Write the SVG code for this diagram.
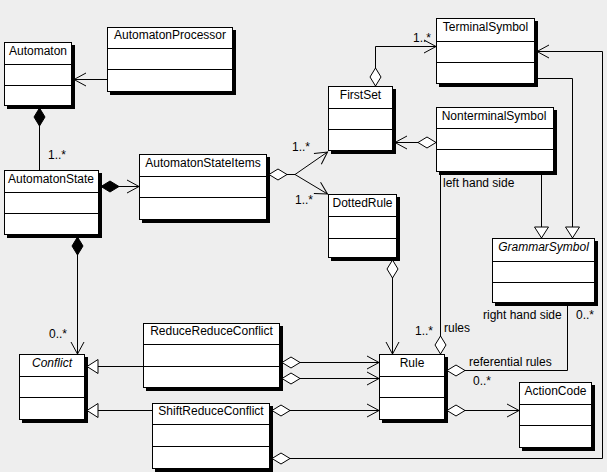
<svg xmlns="http://www.w3.org/2000/svg" width="607" height="472" viewBox="0 0 607 472">
<style>
.sh{fill:#000}
.bx{fill:#fff;stroke:#000;stroke-width:1}
.dv{stroke:#000;stroke-width:1}
.t{font-family:"Liberation Sans",Arial,sans-serif;font-size:12px;fill:#000;text-anchor:middle}
.it{font-style:italic}
.l{font-family:"Liberation Sans",Arial,sans-serif;font-size:12px;fill:#000}
.c{fill:none;stroke:#000;stroke-width:1}
</style>
<defs>
<marker id="arr" markerUnits="userSpaceOnUse" markerWidth="14" markerHeight="14" refX="12" refY="7" orient="auto" overflow="visible">
<path d="M0,0.5 L12,7 L0,13.5" fill="none" stroke="#000" stroke-width="1"/>
</marker>
<marker id="tri" markerUnits="userSpaceOnUse" markerWidth="14" markerHeight="16" refX="11" refY="7" orient="auto" overflow="visible">
<path d="M0,0 L11,7 L0,14 Z" fill="#fff" stroke="#000" stroke-width="1"/>
</marker>
<marker id="dia" markerUnits="userSpaceOnUse" markerWidth="20" markerHeight="14" refX="0" refY="6" orient="auto" overflow="visible">
<path d="M0,6 L9,0.5 L18,6 L9,11.5 Z" fill="#fff" stroke="#000" stroke-width="1"/>
</marker>
<marker id="fdia" markerUnits="userSpaceOnUse" markerWidth="20" markerHeight="14" refX="0" refY="6" orient="auto" overflow="visible">
<path d="M0,6 L9,0.5 L18,6 L9,11.5 Z" fill="#000" stroke="#000" stroke-width="1"/>
</marker>
</defs>
<rect x="0" y="0" width="607" height="472" fill="#eeeeee"/>

<g id="Automaton">
<rect class="sh" x="7" y="45" width="68" height="64"/>
<rect class="bx" x="4.5" y="42.5" width="67" height="63"/>
<line class="dv" x1="4.5" y1="64.5" x2="71.5" y2="64.5"/>
<line class="dv" x1="4.5" y1="85.5" x2="71.5" y2="85.5"/>
<text class="t" x="38" y="55">Automaton</text>
</g>
<g id="AutomatonProcessor">
<rect class="sh" x="110" y="30" width="126" height="65"/>
<rect class="bx" x="107.5" y="27.5" width="125" height="64"/>
<line class="dv" x1="107.5" y1="48.5" x2="232.5" y2="48.5"/>
<line class="dv" x1="107.5" y1="69.5" x2="232.5" y2="69.5"/>
<text class="t" x="170" y="39">AutomatonProcessor</text>
</g>
<g id="AutomatonState">
<rect class="sh" x="7" y="173" width="95" height="65"/>
<rect class="bx" x="4.5" y="170.5" width="94" height="64"/>
<line class="dv" x1="4.5" y1="192.5" x2="98.5" y2="192.5"/>
<line class="dv" x1="4.5" y1="213.5" x2="98.5" y2="213.5"/>
<text class="t" x="51" y="183">AutomatonState</text>
</g>
<g id="AutomatonStateItems">
<rect class="sh" x="142" y="157" width="128" height="66"/>
<rect class="bx" x="139.5" y="154.5" width="127" height="65"/>
<line class="dv" x1="139.5" y1="176.5" x2="266.5" y2="176.5"/>
<line class="dv" x1="139.5" y1="197.5" x2="266.5" y2="197.5"/>
<text class="t" x="203" y="167">AutomatonStateItems</text>
</g>
<g id="FirstSet">
<rect class="sh" x="331" y="89" width="65" height="65"/>
<rect class="bx" x="328.5" y="86.5" width="64" height="64"/>
<line class="dv" x1="328.5" y1="108.5" x2="392.5" y2="108.5"/>
<line class="dv" x1="328.5" y1="129.5" x2="392.5" y2="129.5"/>
<text class="t" x="360.5" y="99">FirstSet</text>
</g>
<g id="TerminalSymbol">
<rect class="sh" x="439" y="21" width="99" height="66"/>
<rect class="bx" x="436.5" y="18.5" width="98" height="65"/>
<line class="dv" x1="436.5" y1="41.5" x2="534.5" y2="41.5"/>
<line class="dv" x1="436.5" y1="62.5" x2="534.5" y2="62.5"/>
<text class="t" x="485.5" y="31">TerminalSymbol</text>
</g>
<g id="NonterminalSymbol">
<rect class="sh" x="439" y="110" width="118" height="65"/>
<rect class="bx" x="436.5" y="107.5" width="117" height="64"/>
<line class="dv" x1="436.5" y1="128.5" x2="553.5" y2="128.5"/>
<line class="dv" x1="436.5" y1="149.5" x2="553.5" y2="149.5"/>
<text class="t" x="494" y="120">NonterminalSymbol</text>
</g>
<g id="GrammarSymbol">
<rect class="sh" x="495" y="241" width="103" height="65"/>
<rect class="bx" x="492.5" y="238.5" width="102" height="64"/>
<line class="dv" x1="492.5" y1="261.5" x2="594.5" y2="261.5"/>
<line class="dv" x1="492.5" y1="282.5" x2="594.5" y2="282.5"/>
<text class="t it" x="543.5" y="251">GrammarSymbol</text>
</g>
<g id="DottedRule">
<rect class="sh" x="331" y="197" width="69" height="64"/>
<rect class="bx" x="328.5" y="194.5" width="68" height="63"/>
<line class="dv" x1="328.5" y1="216.5" x2="396.5" y2="216.5"/>
<line class="dv" x1="328.5" y1="238.5" x2="396.5" y2="238.5"/>
<text class="t" x="362.5" y="207">DottedRule</text>
</g>
<g id="Rule">
<rect class="sh" x="382" y="357" width="66" height="66"/>
<rect class="bx" x="379.5" y="354.5" width="65" height="65"/>
<line class="dv" x1="379.5" y1="376.5" x2="444.5" y2="376.5"/>
<line class="dv" x1="379.5" y1="397.5" x2="444.5" y2="397.5"/>
<text class="t" x="412" y="367">Rule</text>
</g>
<g id="ActionCode">
<rect class="sh" x="522" y="385" width="73" height="66"/>
<rect class="bx" x="519.5" y="382.5" width="72" height="65"/>
<line class="dv" x1="519.5" y1="404.5" x2="591.5" y2="404.5"/>
<line class="dv" x1="519.5" y1="425.5" x2="591.5" y2="425.5"/>
<text class="t" x="555.5" y="395">ActionCode</text>
</g>
<g id="Conflict">
<rect class="sh" x="22" y="357" width="66" height="66"/>
<rect class="bx" x="19.5" y="354.5" width="65" height="65"/>
<line class="dv" x1="19.5" y1="376.5" x2="84.5" y2="376.5"/>
<line class="dv" x1="19.5" y1="397.5" x2="84.5" y2="397.5"/>
<text class="t it" x="52" y="367">Conflict</text>
</g>
<g id="ReduceReduceConflict">
<rect class="sh" x="146" y="326" width="137" height="65"/>
<rect class="bx" x="143.5" y="323.5" width="136" height="64"/>
<line class="dv" x1="143.5" y1="344.5" x2="279.5" y2="344.5"/>
<line class="dv" x1="143.5" y1="366.5" x2="279.5" y2="366.5"/>
<text class="t" x="211.5" y="335">ReduceReduceConflict</text>
</g>
<g id="ShiftReduceConflict">
<rect class="sh" x="155" y="406" width="118" height="66"/>
<rect class="bx" x="152.5" y="403.5" width="117" height="65"/>
<line class="dv" x1="152.5" y1="424.5" x2="269.5" y2="424.5"/>
<line class="dv" x1="152.5" y1="446.5" x2="269.5" y2="446.5"/>
<text class="t" x="211" y="415">ShiftReduceConflict</text>
</g>

<g id="connectors">
<path class="c" d="M107,79.5 L74,79.5" marker-end="url(#arr)"/>
<path class="c" d="M39.5,108 L39.5,170" marker-start="url(#fdia)"/>
<path class="c" d="M101,186.5 L139,186.5" marker-start="url(#fdia)" marker-end="url(#arr)"/>
<path class="c" d="M269,174.5 L295,174.5 L327.5,152" marker-start="url(#dia)" marker-end="url(#arr)"/>
<path class="c" d="M295,174.5 L327.5,194" marker-end="url(#arr)"/>
<path class="c" d="M375.5,86 L375.5,46.5 L436,46.5" marker-start="url(#dia)" marker-end="url(#arr)"/>
<path class="c" d="M436,142.5 L395,142.5" marker-start="url(#dia)" marker-end="url(#arr)"/>
<path class="c" d="M541.5,174 L541.5,238" marker-end="url(#tri)"/>
<path class="c" d="M537,78.5 L572.5,78.5 L572.5,238" marker-end="url(#tri)"/>
<path class="c" d="M440.5,354 L440.5,174"  marker-start="url(#dia)"/>
<path class="c" d="M447,370.5 L567.5,370.5 L567.5,305" marker-start="url(#dia)"/>
<path class="c" d="M447,410.5 L519,410.5" marker-start="url(#dia)" marker-end="url(#arr)"/>
<path class="c" d="M392.5,260 L392.5,354" marker-start="url(#dia)" marker-end="url(#arr)"/>
<path class="c" d="M77.5,237 L77.5,354" marker-start="url(#fdia)" marker-end="url(#arr)"/>
<path class="c" d="M143,366.5 L87,366.5" marker-end="url(#tri)"/>
<path class="c" d="M152,410.5 L87,410.5" marker-end="url(#tri)"/>
<path class="c" d="M282,362.5 L379,362.5" marker-start="url(#dia)" marker-end="url(#arr)"/>
<path class="c" d="M282,378.5 L379,378.5" marker-start="url(#dia)" marker-end="url(#arr)"/>
<path class="c" d="M272,410.5 L379,410.5" marker-start="url(#dia)" marker-end="url(#arr)"/>
<path class="c" d="M272,458.5 L602.5,458.5 L602.5,51.5 L537,51.5" marker-start="url(#dia)" marker-end="url(#arr)"/>
<text class="l" x="48" y="159">1..*</text>
<text class="l" x="49" y="338">0..*</text>
<text class="l" x="413" y="42">1..*</text>
<text class="l" x="292" y="151">1..*</text>
<text class="l" x="295" y="204">1..*</text>
<text class="l" x="443" y="187">left hand side</text>
<text class="l" x="415" y="335">1..*</text>
<text class="l" x="444" y="332">rules</text>
<text class="l" x="483" y="319">right hand side</text>
<text class="l" x="576" y="319">0..*</text>
<text class="l" x="469" y="366">referential rules</text>
<text class="l" x="473" y="385">0..*</text>
</g>
</svg>
